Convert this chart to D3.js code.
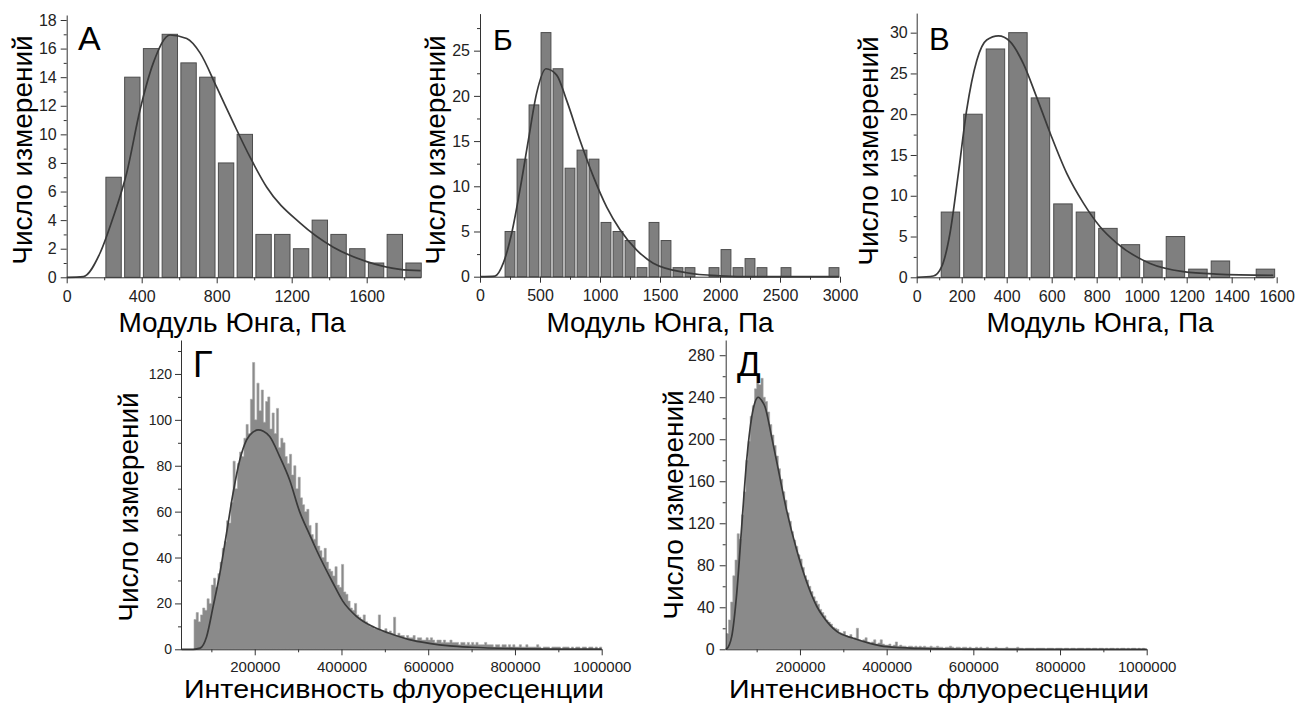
<!DOCTYPE html>
<html>
<head>
<meta charset="utf-8">
<script src="https://cdn.jsdelivr.net/npm/d3@7"></script>
<style>
  body { margin: 0; background: #fff; }
  svg { display: block; }
  text { font-family: "Liberation Sans", Arial, sans-serif; }
</style>
</head>
<body>
<div id="chart"></div>
<script>
// ---- data ----
// top row: histograms of Young's modulus, bins of 100 Pa
const binA = 100, startA = 200;
const countsA = [7, 14, 16, 17, 15, 14, 8, 10, 3, 3, 2, 4, 3, 2, 1, 3, 1];
const binB = 100, startB = 200;
const countsB = [5, 13, 19, 27, 23, 12, 14, 13, 6, 5, 4, 1, 6, 4, 1, 1, 0, 1, 3, 1, 2, 1, 0, 1, 0, 0, 0, 1];
const binV = 100, startV = 100;
const countsV = [8, 20, 28, 30, 22, 9, 8, 6, 4, 2, 5, 1, 2, 0, 1];

// fitted curves
const fitA = [[0, 0], [89, 0.05], [178, 1.7], [248, 4.2], [320, 7.3], [391, 11.7], [462, 15], [551, 16.95],
  [640, 16.7], [711, 15.7], [800, 13.3], [889, 10.8], [978, 8.4], [1067, 6.3], [1244, 3.8], [1422, 2.1],
  [1600, 1.1], [1778, 0.56], [1888, 0.47]];
const fitB = [[0, 0], [125, 0.07], [194, 1.5], [264, 4.8], [333, 9.6], [403, 15.1], [472, 20.3], [550, 23],
  [639, 22.3], [722, 19.5], [833, 15.1], [944, 11.1], [1056, 7.7], [1167, 5.2], [1306, 2.95], [1444, 1.5],
  [1722, 0.44], [2000, 0.1], [2278, 0], [2990, 0]];
const fitV = [[0, 0], [74, 0.16], [111, 1.3], [148, 5.4], [185, 12.7], [222, 20.5], [267, 26.6], [311, 29.1],
  [363, 29.6], [415, 28.9], [474, 26.2], [533, 22.1], [593, 17.7], [667, 12.75], [741, 9.1], [815, 6.2],
  [889, 4.2], [1037, 1.7], [1185, 0.7], [1333, 0.4], [1585, 0.25]];

// bottom row: fluorescence intensity, bins of 5000
const binG = 5000, startG = 60000;
const countsG = [
  13, 16, 12, 15, 18, 17, 22, 20, 28, 31, 27, 33,
  38, 44, 47, 56, 55, 64, 82, 70, 81, 86, 84, 92,
  98, 94, 109, 125, 100, 116, 104, 113, 99, 108, 110, 96,
  103, 94, 105, 88, 92, 90, 84, 81, 85, 76, 80, 70,
  75, 66, 63, 60, 61, 54, 50, 48, 55, 45, 43, 40,
  44, 38, 35, 34, 32, 36, 28, 27, 37, 25, 24, 21,
  18, 17, 20, 15, 14, 13, 15, 12, 11, 10, 10, 9,
  9, 15, 8, 8, 9, 7, 8, 7, 14, 6, 7, 6,
  6, 5, 6, 5, 5, 6, 4, 5, 5, 4, 4, 5,
  4, 5, 4, 3, 4, 4, 3, 4, 3, 3, 4, 3,
  3, 3, 2, 3, 3, 2, 3, 2, 3, 2, 3, 2,
  2, 2, 3, 2, 2, 2, 1, 2, 2, 1, 2, 2,
  1, 2, 1, 2, 1, 1, 2, 1, 1, 2, 1, 1,
  1, 1, 2, 1, 0, 1, 1, 1, 0, 1, 1, 1,
  1, 0, 1, 1, 1, 0, 1, 0, 1, 1, 0, 1,
  1, 0, 1, 1, 0, 1, 0, 1];
const binD = 5000, startD = 30000;
const countsD = [
  15, 28, 45, 70, 85, 110, 105, 128, 150, 180, 198, 222,
  232, 248, 262, 252, 258, 240, 236, 226, 214, 204, 194, 184,
  172, 162, 150, 142, 130, 122, 112, 104, 98, 90, 86, 78,
  70, 66, 60, 55, 50, 46, 43, 38, 35, 32, 28, 26,
  24, 21, 20, 19, 16, 15, 17, 13, 12, 14, 10, 11,
  20, 9, 8, 9, 11, 7, 6, 7, 9, 5, 6, 9,
  5, 4, 4, 5, 3, 4, 7, 3, 4, 3, 3, 2,
  3, 3, 2, 3, 2, 3, 2, 3, 2, 2, 3, 2,
  2, 3, 2, 2, 1, 2, 2, 3, 2, 1, 2, 2,
  1, 2, 2, 1, 2, 1, 1, 2, 1, 2, 1, 1,
  2, 1, 1, 1, 2, 1, 1, 1, 1, 2, 1, 1,
  1, 1, 2, 1, 1, 0, 1, 1, 1, 1, 0, 1,
  1, 1, 1, 0, 1, 1, 1, 0, 1, 1, 1, 0,
  1, 1, 0, 1, 1, 0, 1, 1, 1, 0, 1, 1,
  0, 1, 1, 0, 1, 1, 0, 1, 0, 1, 1, 0,
  1, 0, 1, 1, 0, 1, 0, 1, 1, 0, 1, 0,
  1, 0];

const fitG = [[30000, 0], [58000, 0], [74000, 0.5], [89000, 5.5], [104000, 18.6], [119500, 33], [135000, 50.6],
  [150000, 68], [165500, 82.5], [181000, 91.2], [195000, 94.5], [207600, 95.6], [220000, 95], [234500, 92.7],
  [257500, 84], [280500, 73.8], [303500, 60], [326500, 50], [341800, 43.5], [380100, 29], [403000, 21],
  [433800, 14.5], [472000, 9.9], [510400, 7], [556400, 4.2], [602300, 2.6], [650000, 1.5], [700000, 0.9],
  [800000, 0.3], [900000, 0.1], [1000000, 0.05]];
const fitD = [[28600, 0], [31000, 0.5], [42400, 12], [54000, 53], [65500, 117], [77000, 180], [88600, 221],
  [96000, 235], [103800, 240], [111500, 237], [119300, 231], [134700, 202], [150000, 171], [169300, 132],
  [192400, 94.5], [215500, 64], [238600, 41], [253800, 31], [269200, 23], [284700, 17], [323000, 10.5],
  [361500, 5.7], [400000, 2.5], [476900, 0.8], [560000, 0.2], [700000, 0], [1000000, 0]];

// ticks
const xTicksA = [0, 400, 800, 1200, 1600], xMinorA = [200, 600, 1000, 1400, 1800];
const yTicksA = d3.range(0, 19, 2), yMinorA = d3.range(1, 18, 2);
const xTicksB = [0, 500, 1000, 1500, 2000, 2500, 3000], xMinorB = [250, 750, 1250, 1750, 2250, 2750];
const yTicksB = [0, 5, 10, 15, 20, 25], yMinorB = [2.5, 7.5, 12.5, 17.5, 22.5, 27.5];
const xTicksV = d3.range(0, 1601, 200), xMinorV = d3.range(100, 1600, 200);
const yTicksV = [0, 5, 10, 15, 20, 25, 30], yMinorV = [2.5, 7.5, 12.5, 17.5, 22.5, 27.5, 32.5];
const xTicksF = [200000, 400000, 600000, 800000, 1000000], xMinorF = [100000, 300000, 500000, 700000, 900000];
const yTicksG = d3.range(0, 121, 20), yMinorG = d3.range(10, 131, 20);
const yTicksD = d3.range(0, 281, 40), yMinorD = d3.range(20, 281, 40);

const yTitle = "Число измерений";
const xTitleTop = "Модуль Юнга, Па";
const xTitleBottom = "Интенсивность флуоресценции";

// ---- layout ----
const W = 1298, H = 704;
const svg = d3.select("#chart").append("svg").attr("width", W).attr("height", H);

const panels = [
  { label: "А", counts: countsA, start: startA, bin: binA, fit: fitA, kind: "bars",
    xd: [0, 1888], xr: [66.7, 420.7], yd: [0, 18.35], yr: [277.3, 15],
    xt: xTicksA, xm: xMinorA, yt: yTicksA, ym: yMinorA, tickFont: 16, xPad: 7, yPad: 4, yTickFont: 16,
    xTitle: xTitleTop, xTitleX: 232, xTitleY: 332, xTitleFont: 28, yTitleX: 32, yTitleY: 150, yTitleFont: 28,
    lx: 78, ly: 50, lf: 34 },
  { label: "Б", counts: countsB, start: startB, bin: binB, fit: fitB, kind: "bars",
    xd: [0, 2990], xr: [480, 838.8], yd: [0, 29.1], yr: [276.7, 13.6],
    xt: xTicksB, xm: xMinorB, yt: yTicksB, ym: yMinorB, tickFont: 16, xPad: 7, yPad: 4, yTickFont: 16,
    xTitle: xTitleTop, xTitleX: 660, xTitleY: 332, xTitleFont: 28, yTitleX: 445, yTitleY: 150, yTitleFont: 28,
    lx: 493, ly: 50, lf: 30 },
  { label: "В", counts: countsV, start: startV, bin: binV, fit: fitV, kind: "bars",
    xd: [0, 1585], xr: [916.7, 1273.3], yd: [0, 32.4], yr: [277.3, 13.1],
    xt: xTicksV, xm: xMinorV, yt: yTicksV, ym: yMinorV, tickFont: 16, xPad: 7, yPad: 3, yTickFont: 16,
    xTitle: xTitleTop, xTitleX: 1100, xTitleY: 332, xTitleFont: 28, yTitleX: 878, yTitleY: 151, yTitleFont: 28,
    lx: 929, ly: 50, lf: 31 },
  { label: "Г", counts: countsG, start: startG, bin: binG, fit: fitG, kind: "dense",
    xd: [30000, 1000000], xr: [181, 601.7], yd: [0, 134.8], yr: [649.3, 340],
    xt: xTicksF, xm: xMinorF, yt: yTicksG, ym: yMinorG, tickFont: 15, xPad: 6, yPad: 3, yTickFont: 14,
    xTitle: xTitleBottom, xTitleX: 394, xTitleY: 698, xTitleFont: 25, xTitleLen: 420,
    yTitleX: 138, yTitleY: 507, yTitleFont: 28,
    lx: 193, ly: 377, lf: 36 },
  { label: "Д", counts: countsD, start: startD, bin: binD, fit: fitD, kind: "dense",
    xd: [28600, 1000000], xr: [725.7, 1146.7], yd: [0, 294.5], yr: [649.3, 340],
    xt: xTicksF, xm: xMinorF, yt: yTicksD, ym: yMinorD, tickFont: 15, xPad: 6, yPad: 5, yTickFont: 16,
    xTitle: xTitleBottom, xTitleX: 939, xTitleY: 698, xTitleFont: 25, xTitleLen: 420,
    yTitleX: 683, yTitleY: 505, yTitleFont: 28,
    lx: 737, ly: 376, lf: 35 }
];

panels.forEach(drawPanel);

function drawPanel(p) {
  const x = d3.scaleLinear().domain(p.xd).range(p.xr);
  const y = d3.scaleLinear().domain(p.yd).range(p.yr);
  const g = svg.append("g");
  const data = p.counts.map((c, i) => ({ x0: p.start + i * p.bin, c: c }));

  if (p.kind === "bars") {
    const bw = (x(p.bin) - x(0)) * 0.82;
    g.selectAll("rect").data(data.filter(d => d.c > 0)).join("rect")
      .attr("x", d => x(d.x0 + p.bin / 2) - bw / 2)
      .attr("y", d => y(d.c))
      .attr("width", bw)
      .attr("height", d => y(0) - y(d.c))
      .attr("fill", "#7f7f7f")
      .attr("stroke", "#4d4d4d")
      .attr("stroke-width", 1);
  } else {
    // dense histogram: one stepped area, so the thin bins don't leave seams
    const last = data[data.length - 1];
    const steps = data.concat([{ x0: last.x0 + p.bin, c: last.c }]);
    const area = d3.area()
      .x(d => x(d.x0))
      .y0(y(0))
      .y1(d => y(d.c))
      .curve(d3.curveStepAfter);
    g.append("path").datum(steps)
      .attr("d", area)
      .attr("fill", "#8a8a8a")
      .attr("stroke", "#a8a8a8")
      .attr("stroke-width", 0.6);
  }

  const line = d3.line().x(d => x(d[0])).y(d => y(d[1])).curve(d3.curveMonotoneX);
  g.append("path").datum(p.fit)
    .attr("d", line)
    .attr("fill", "none")
    .attr("stroke", "#3a3a3a")
    .attr("stroke-width", 1.7);

  // axes
  const xAxis = g.append("g").attr("transform", `translate(0,${p.yr[0]})`)
    .call(d3.axisBottom(x).tickValues(p.xt).tickSize(6).tickSizeOuter(0).tickPadding(p.xPad).tickFormat(d3.format("d")));
  g.append("g").attr("transform", `translate(0,${p.yr[0]})`)
    .call(d3.axisBottom(x).tickValues(p.xm).tickSize(3).tickSizeOuter(0).tickFormat(""))
    .select(".domain").remove();
  const yAxis = g.append("g").attr("transform", `translate(${p.xr[0]},0)`)
    .call(d3.axisLeft(y).tickValues(p.yt).tickSize(6).tickSizeOuter(0).tickPadding(p.yPad).tickFormat(d3.format("d")));
  g.append("g").attr("transform", `translate(${p.xr[0]},0)`)
    .call(d3.axisLeft(y).tickValues(p.ym.filter(v => v <= p.yd[1])).tickSize(3).tickSizeOuter(0).tickFormat(""))
    .select(".domain").remove();

  g.selectAll(".domain, .tick line").attr("stroke", "#333");
  xAxis.selectAll("text").attr("font-size", p.tickFont).attr("fill", "#222")
    .style("font-family", "'Liberation Sans', Arial, sans-serif");
  yAxis.selectAll("text").attr("font-size", p.yTickFont).attr("fill", "#222")
    .style("font-family", "'Liberation Sans', Arial, sans-serif");

  // titles
  const xt = g.append("text").attr("x", p.xTitleX).attr("y", p.xTitleY)
    .attr("text-anchor", "middle").attr("font-size", p.xTitleFont).text(p.xTitle);
  if (p.xTitleLen) xt.attr("textLength", p.xTitleLen).attr("lengthAdjust", "spacingAndGlyphs");
  g.append("text")
    .attr("transform", `translate(${p.yTitleX},${p.yTitleY}) rotate(-90)`)
    .attr("text-anchor", "middle").attr("font-size", p.yTitleFont).text(yTitle);
  g.append("text").attr("x", p.lx).attr("y", p.ly).attr("font-size", p.lf).text(p.label);
}
</script>
</body>
</html>
